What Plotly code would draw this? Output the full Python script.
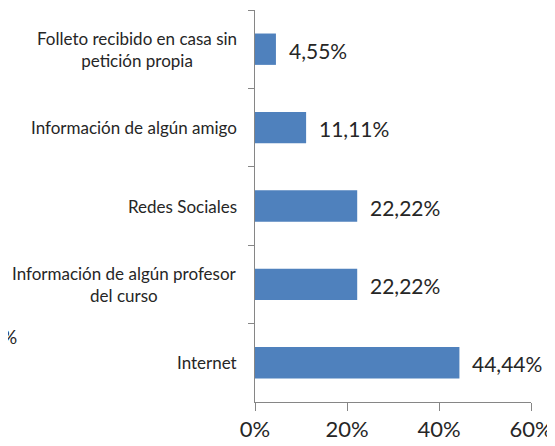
import plotly.graph_objects as go

categories = [
    "Folleto recibido en casa sin<br>petición propia",
    "Información de algún amigo",
    "Redes Sociales",
    "Información de algún profesor<br>del curso",
    "Internet",
]
values = [4.55, 11.11, 22.22, 22.22, 44.44]
value_labels = ["4,55%", "11,11%", "22,22%", "22,22%", "44,44%"]
x_ticks = [0, 20, 40, 60]
x_tick_labels = ["0%", "20%", "40%", "60%"]

FONT = "Lato"
TEXT = "#262626"
AXIS = "#868686"

# page has an 8px body margin; the figure is sized to fill the rest
OFF = 8
W, H = 555 - OFF, 446 - OFF
# plot-area geometry in page pixels
L, R, T, B = 255, 531, 10, 402
def px(xp):
    return (xp - L) / (R - L)
def py(yp):
    return (B - yp) / (B - T)

fig = go.Figure()
fig.add_trace(go.Bar(
    x=values, y=categories, orientation="h",
    marker=dict(color="#4F81BD", line=dict(width=0)),
    width=0.4, hoverinfo="skip",
))

# value labels
for c, v, t in zip(categories, values, value_labels):
    fig.add_annotation(x=v, y=c, xref="x", yref="y", text=t, showarrow=False,
                       xanchor="left", xshift=11, yshift=-1,
                       font=dict(family=FONT, size=21, color=TEXT))

# category labels (centered multi-line)
for c in categories:
    fig.add_annotation(x=0, y=c, xref="paper", yref="y", text=c, showarrow=False,
                       xanchor="right", xshift=-16, align="center",
                       font=dict(family=FONT, size=17, color=TEXT))

# cropped fragment of neighbouring text at far left
fig.add_annotation(x=px(OFF + 1), y=py(336), xref="paper", yref="paper",
                   text="%", showarrow=False, xanchor="center", yanchor="middle",
                   font=dict(family=FONT, size=19, color=TEXT))

fig.update_layout(
    width=W, height=H,
    margin=dict(l=L - OFF, r=555 - R, t=T - OFF, b=446 - B, autoexpand=False),
    paper_bgcolor="white", plot_bgcolor="white",
    showlegend=False,
    bargap=0.6,
    xaxis=dict(range=[0, 60], tickvals=x_ticks, ticktext=x_tick_labels,
               showgrid=False, zeroline=False, showline=True, linecolor=AXIS,
               linewidth=1, ticks="outside", ticklen=8, tickcolor=AXIS,
               automargin=False,
               tickfont=dict(family=FONT, size=22, color=TEXT), fixedrange=True),
    yaxis=dict(categoryorder="array", categoryarray=categories, autorange="reversed",
               showticklabels=False, showgrid=False, zeroline=False, automargin=False,
               showline=True, linecolor=AXIS, linewidth=1, ticks="outside",
               ticklen=6, tickcolor=AXIS, tickson="boundaries", fixedrange=True),
)

fig.write_html("out.html")
